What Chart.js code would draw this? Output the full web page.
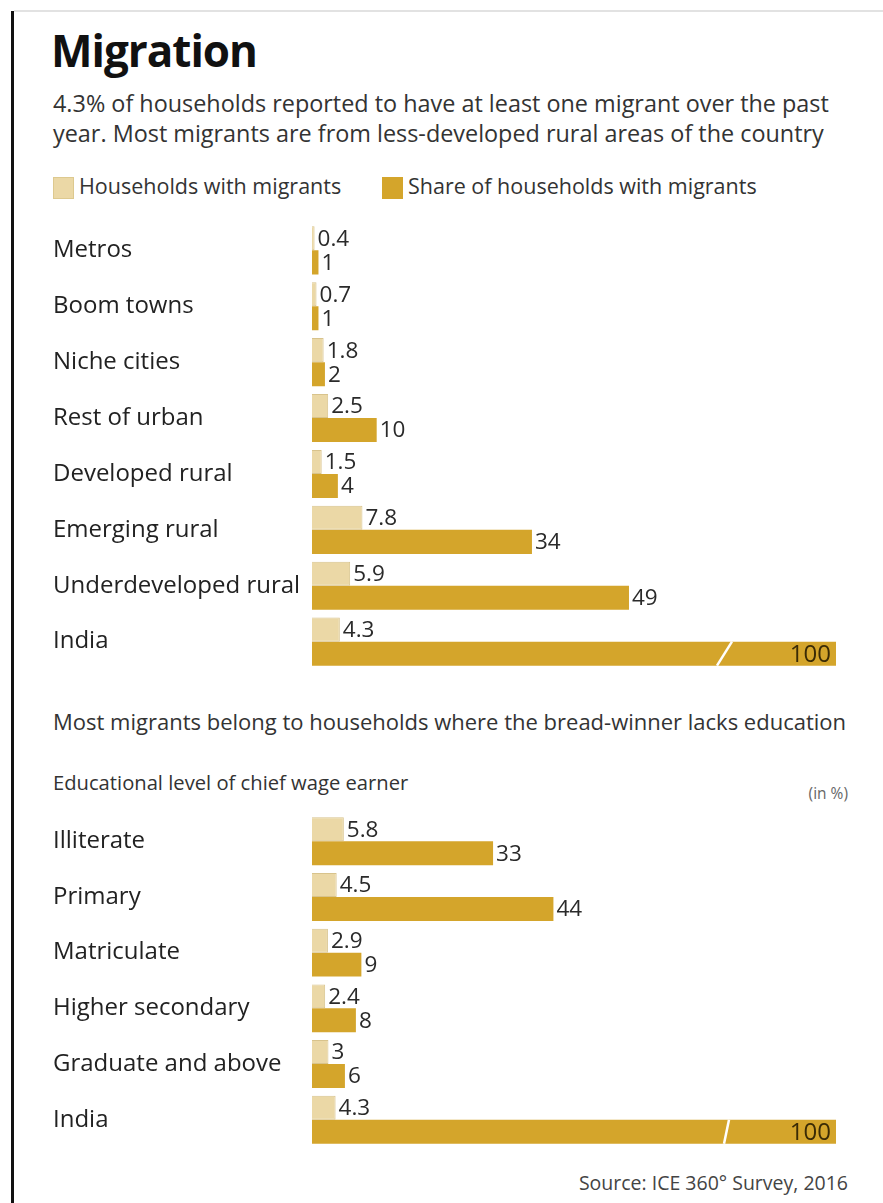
<!DOCTYPE html>
<html><head><meta charset="utf-8">
<script src="https://cdn.jsdelivr.net/npm/chart.js@4/dist/chart.umd.min.js"></script>
<style>
html,body{margin:0;padding:0;background:#fff;}
body{width:883px;height:1203px;position:relative;overflow:hidden;font-family:"Open Sans",sans-serif;color:#222;}
.abs{position:absolute;white-space:nowrap;}
#frameL{left:11px;top:11px;width:3px;height:1192px;background:#111;}
#frameT{left:14px;top:10px;width:869px;height:2px;background:#e2e2e2;}
#title{left:51px;top:20px;font-size:44px;font-weight:700;color:#111;letter-spacing:-1px;line-height:60px;}
#sub{left:53px;top:88px;font-size:23.4px;line-height:30px;color:#333;}
.leg{top:173px;font-size:21.5px;line-height:26px;color:#333;}
.sw{display:inline-block;width:21px;height:22px;vertical-align:-5px;margin-right:5px;}
#sub2{left:53px;top:706px;font-size:22px;line-height:30px;color:#333;}
#edu{left:53px;top:769px;font-size:20.2px;line-height:26px;color:#333;}
#unit{right:35px;top:782px;font-size:15.5px;line-height:22px;color:#666;}
#src{right:35px;top:1170px;font-size:19.5px;line-height:26px;color:#444;}
canvas{position:absolute;left:0;}
#c1{top:208px;}
#c2{top:799px;}
</style>
</head><body>
<div id="frameL" class="abs"></div>
<div id="frameT" class="abs"></div>
<div id="title" class="abs">Migration</div>
<div id="sub" class="abs">4.3% of households reported to have at least one migrant over the past<br>year. Most migrants are from less-developed rural areas of the country</div>
<div class="abs leg" style="left:53px"><span class="sw" style="background:#ebd8a6;border:1px solid #ddc98f;box-sizing:border-box"></span>Households with migrants</div>
<div class="abs leg" style="left:382px"><span class="sw" style="background:#d4a52b"></span>Share of households with migrants</div>
<div id="sub2" class="abs">Most migrants belong to households where the bread-winner lacks education</div>
<div id="edu" class="abs">Educational level of chief wage earner</div>
<div id="unit" class="abs">(in %)</div>
<div id="src" class="abs">Source: ICE 360° Survey, 2016</div>
<canvas id="c1" width="883" height="476"></canvas>
<canvas id="c2" width="883" height="363"></canvas>
<script>
// ---- Data ----
const regionCategories = ["Metros","Boom towns","Niche cities","Rest of urban","Developed rural","Emerging rural","Underdeveloped rural","India"];
const regionHouseholds = [0.4, 0.7, 1.8, 2.5, 1.5, 7.8, 5.9, 4.3];
const regionShare = [1, 1, 2, 10, 4, 34, 49, 100];

const eduCategories = ["Illiterate","Primary","Matriculate","Higher secondary","Graduate and above","India"];
const eduHouseholds = [5.8, 4.5, 2.9, 2.4, 3, 4.3];
const eduShare = [33, 44, 9, 8, 6, 100];

const seriesNames = ["Households with migrants","Share of households with migrants"];
const LIGHT = "#ebd8a6", LIGHT_BORDER = "#d8c38c", GOLD = "#d4a52b";

const valueLabels = {
  id: 'valueLabels',
  afterDatasetsDraw(chart, args, opts) {
    const ctx = chart.ctx, area = chart.chartArea, xs = chart.scales.x;
    ctx.save();
    chart.data.datasets.forEach((ds, i) => {
      const meta = chart.getDatasetMeta(i);
      meta.data.forEach((bar, j) => {
        const v = ds.data[j];
        ctx.textBaseline = 'middle';
        if (v > xs.max) {
          const h = bar.height;
          ctx.strokeStyle = '#ffffff';
          ctx.lineWidth = 2.5;
          ctx.beginPath();
          ctx.moveTo(area.right - opts.breakBottom, bar.y + h / 2);
          ctx.lineTo(area.right - opts.breakTop, bar.y - h / 2);
          ctx.stroke();
          ctx.fillStyle = '#3a2b05';
          ctx.textAlign = 'right';
          ctx.font = '24px "Open Sans"';
          ctx.fillText(String(v), area.right - 5, bar.y + 1);
        } else {
          ctx.fillStyle = '#2a2a2a';
          ctx.textAlign = 'left';
          ctx.font = '22.5px "Open Sans"';
          ctx.fillText(String(v), bar.x + 3, bar.y + 1);
        }
      });
    });
    ctx.restore();
  }
};

function makeChart(id, cats, hh, share, xmax, breakBottom, breakTop) {
  return new Chart(document.getElementById(id), {
    type: 'bar',
    data: {
      labels: cats,
      datasets: [
        { label: seriesNames[0], data: hh, backgroundColor: LIGHT, borderColor: LIGHT_BORDER, borderWidth: 1, categoryPercentage: 0.86, barPercentage: 1.0 },
        { label: seriesNames[1], data: share, backgroundColor: GOLD, borderWidth: 0, categoryPercentage: 0.86, barPercentage: 1.0 }
      ]
    },
    options: {
      indexAxis: 'y',
      responsive: false,
      animation: false,
      layout: { padding: { left: 53, right: 47, top: 10, bottom: 10 } },
      plugins: {
        legend: { display: false },
        tooltip: { enabled: false },
        valueLabels: { breakBottom, breakTop }
      },
      scales: {
        x: { display: false, min: 0, max: xmax },
        y: {
          grid: { display: false, drawTicks: false },
          border: { display: false },
          ticks: { crossAlign: 'far', color: '#222', font: { family: 'Open Sans', size: 24 }, padding: 0 },
          afterFit(axis) { axis.width = 259; }
        }
      }
    },
    plugins: [valueLabels]
  });
}

makeChart('c1', regionCategories, regionHouseholds, regionShare, 81, 119, 104);
makeChart('c2', eduCategories, eduHouseholds, eduShare, 95.5, 112, 107);
</script>
</body></html>
